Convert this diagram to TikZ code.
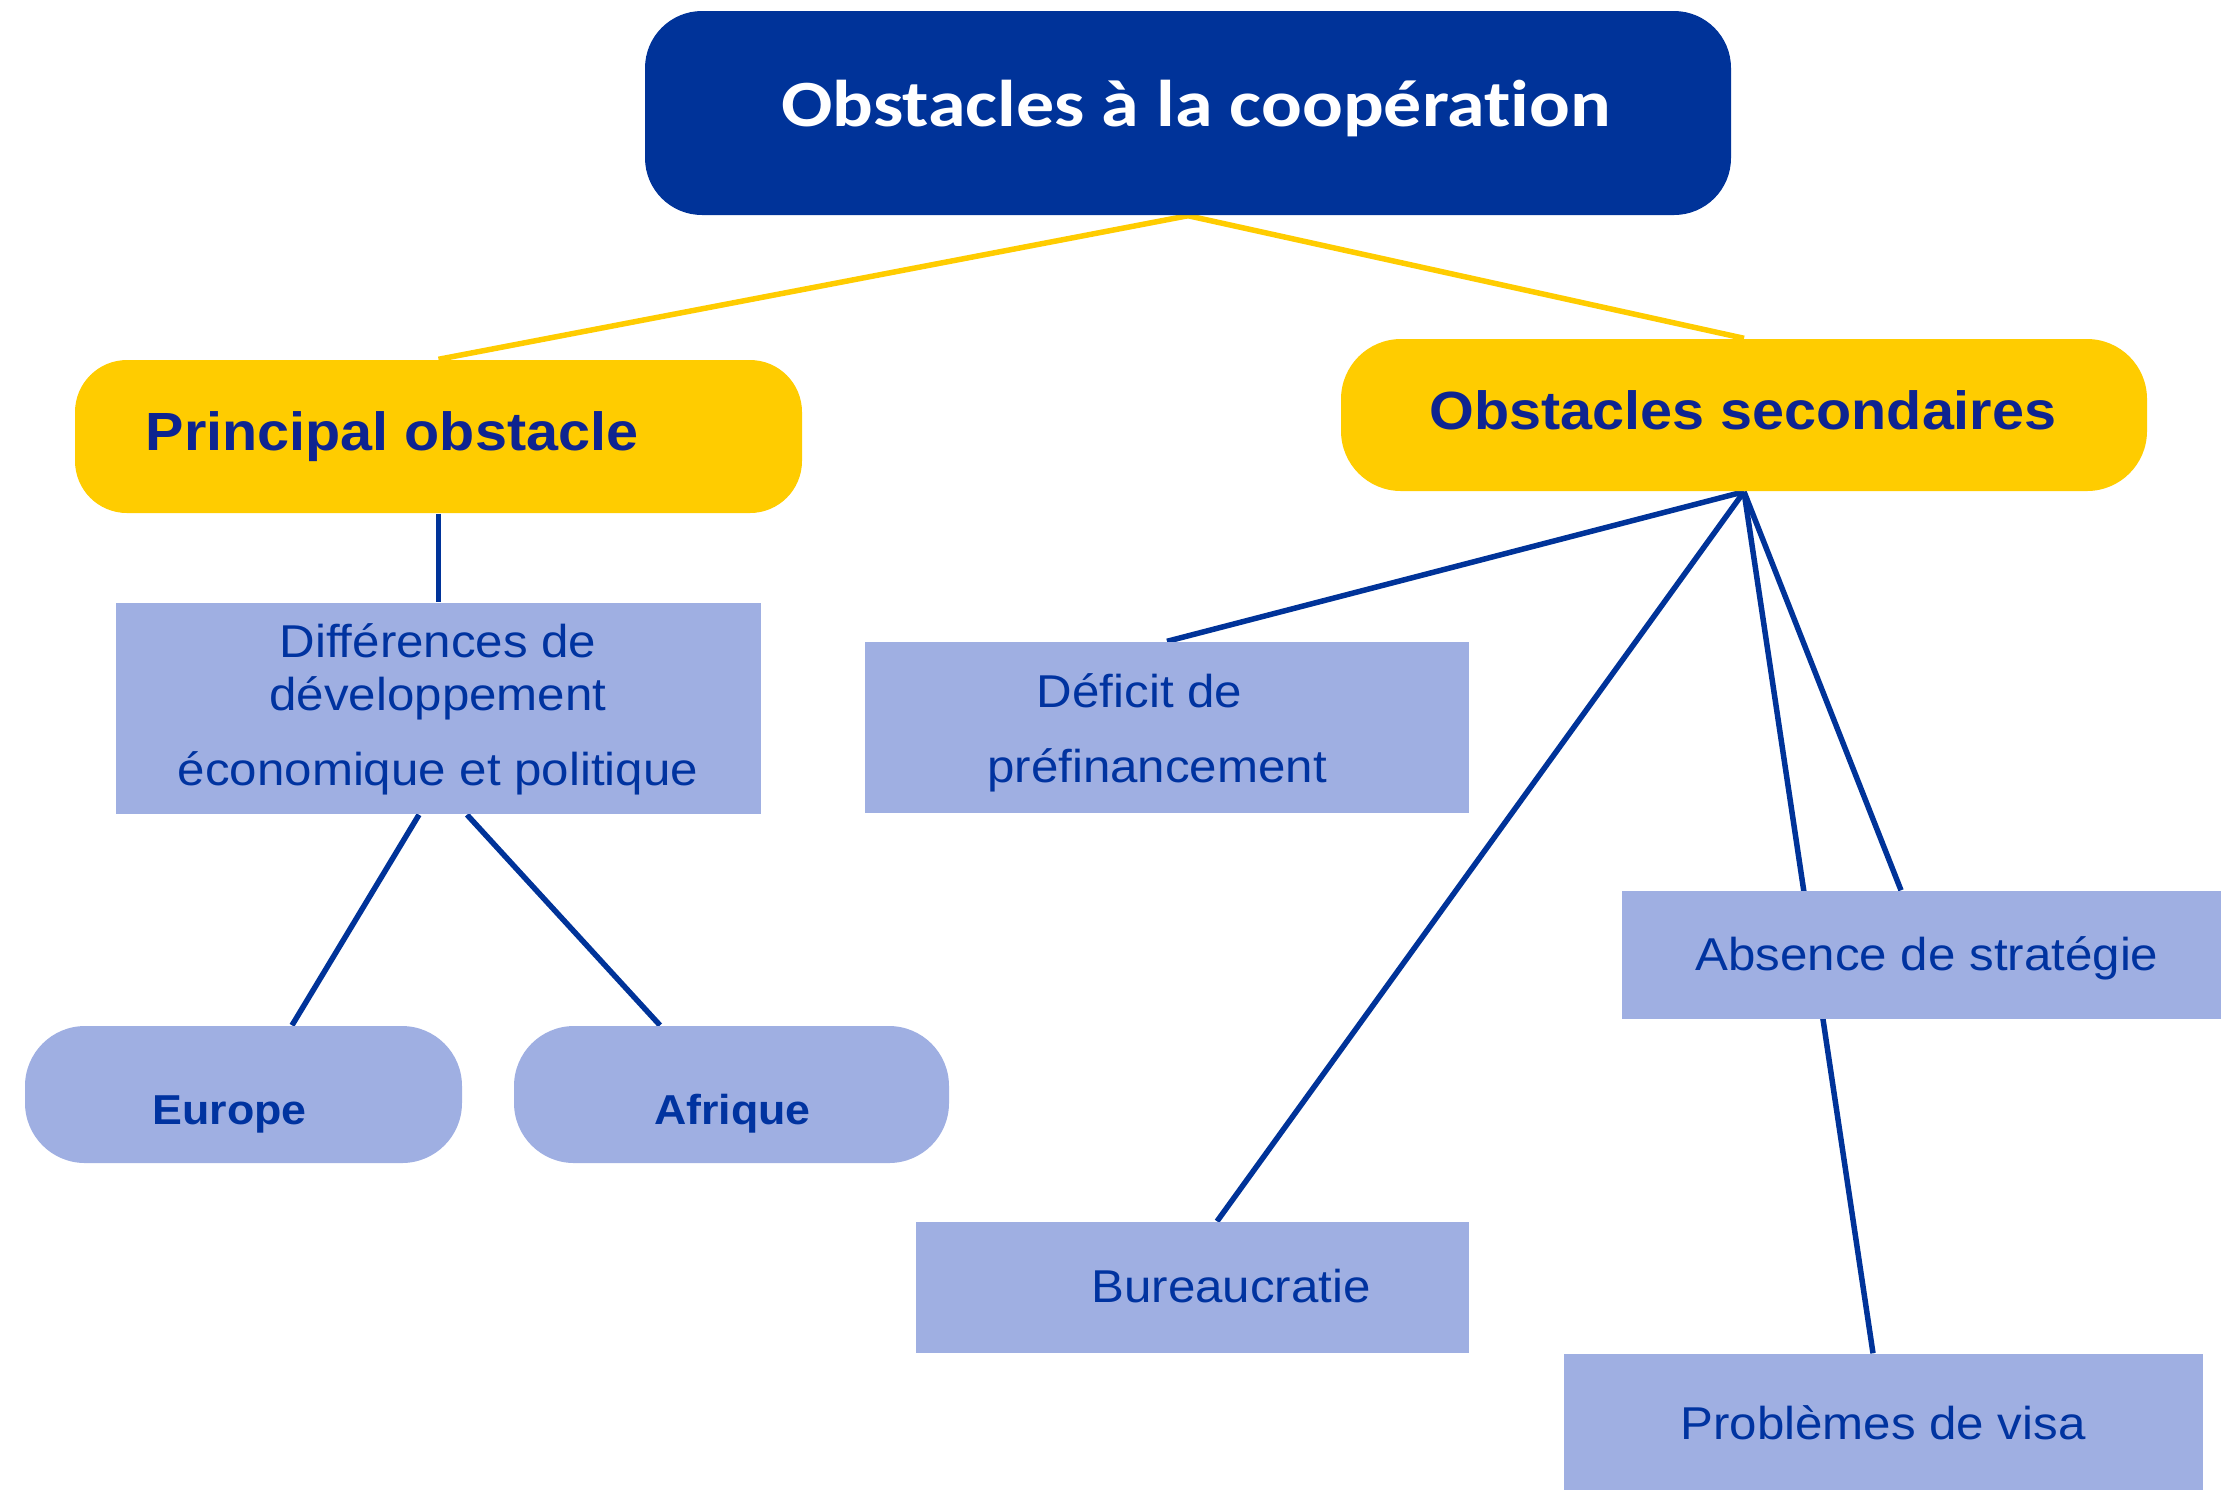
\documentclass[tikz,border=0pt]{standalone}
\usepackage{fontspec}
\setmainfont[FakeStretch=1.07]{Liberation Sans}
\newfontfamily\titlefont[FakeStretch=1.15, Ligatures=NoCommon]{Carlito}
\usetikzlibrary{backgrounds}
\definecolor{navy}{RGB}{0,51,153}
\definecolor{gold}{RGB}{255,204,0}
\definecolor{lightb}{RGB}{159,175,226}
\definecolor{txtblue}{RGB}{0,51,160}
\definecolor{boldblue}{RGB}{14,36,144}
\tikzset{
  sqbox/.style={fill=lightb, draw=none, inner sep=0pt},
  pillbox/.style={fill=lightb, draw=none, inner sep=0pt, rounded corners=6mm},
  ybox/.style={fill=gold, draw=none, inner sep=0pt, rounded corners=6mm},
  topbox/.style={fill=navy, draw=none, inner sep=0pt, rounded corners=5.7mm},
  txt/.style={anchor=base, inner sep=0pt, text=txtblue, font=\fontsize{13.1pt}{15pt}\selectfont},
  btxt/.style={anchor=base, inner sep=0pt, text=txtblue, font=\bfseries\fontsize{11.9pt}{14pt}\selectfont},
  ytxt/.style={anchor=base, inner sep=0pt, text=boldblue, font=\bfseries\fontsize{15.3pt}{18pt}\selectfont},
  ttxt/.style={anchor=base, inner sep=0pt, text=white, font=\titlefont\bfseries\fontsize{18.8pt}{22pt}\selectfont},
  link/.style={draw=navy, line width=0.55mm},
  ylink/.style={draw=gold, line width=0.55mm}
}
\begin{document}
\begin{tikzpicture}[x=0.1mm, y=-0.1mm]
\useasboundingbox (0,0) rectangle (2221,1490);
% boxes
\node[topbox, minimum width=108.6mm, minimum height=20.4mm] (top) at (1188,113) {};
\node[ybox, rounded corners=5.2mm, minimum width=72.7mm, minimum height=15.3mm] (principal) at (438.5,436.5) {};
\node[ybox, minimum width=80.6mm, minimum height=15.2mm] (secondaires) at (1744,415) {};
\node[sqbox, minimum width=64.5mm, minimum height=21.1mm] (diff) at (438.5,708.5) {};
\node[pillbox, minimum width=43.7mm, minimum height=13.7mm] (europe) at (243.5,1094.5) {};
\node[pillbox, minimum width=43.5mm, minimum height=13.7mm] (afrique) at (731.5,1094.5) {};
\node[sqbox, minimum width=60.4mm, minimum height=17.1mm] (deficit) at (1167,727.5) {};
\node[sqbox, minimum width=59.9mm, minimum height=12.8mm] (absence) at (1921.5,955) {};
\node[sqbox, minimum width=55.3mm, minimum height=13.1mm] (bureau) at (1192.5,1287.5) {};
\node[sqbox, minimum width=63.9mm, minimum height=13.6mm] (visa) at (1883.5,1422) {};
% texts
\node[ttxt] (top-t) at (1196,126) {Obstacles à la coopération};
\node[ytxt] (principal-t) at (392,450) {Principal obstacle};
\node[ytxt] (secondaires-t) at (1743,429) {Obstacles secondaires};
\node[txt] (diff-t1) at (438,657) {Différences de};
\node[txt] (diff-t2) at (438,710) {développement};
\node[txt] (diff-t3) at (438,785) {économique et politique};
\node[btxt] (europe-t) at (229.5,1124) {Europe};
\node[btxt] (afrique-t) at (732.5,1124) {Afrique};
\node[txt] (deficit-t1) at (1139.5,707) {Déficit de};
\node[txt] (deficit-t2) at (1157,782) {préfinancement};
\node[txt] (absence-t) at (1927,970) {Absence de stratégie};
\node[txt] (bureau-t) at (1231,1302) {Bureaucratie};
\node[txt] (visa-t) at (1883,1439) {Problèmes de visa};
% connectors
\begin{pgfonlayer}{background}
\draw[ylink] (top.south) -- (principal.north);
\draw[ylink] (top.south) -- (secondaires.north);
\draw[link] (principal.south) -- (diff.north);
\draw[link] ([xshift=-1.95mm]diff.south) -- ([xshift=4.85mm]europe.north);
\draw[link] ([xshift=2.85mm]diff.south) -- ([xshift=-7.15mm]afrique.north);
\draw[link] (secondaires.south) -- (deficit.north);
\draw[link] (secondaires.south) -- ([xshift=2.45mm]bureau.north);
\draw[link] (secondaires.south) -- ([xshift=-2.05mm]absence.north);
\draw[link] (secondaires.south) -- ([xshift=-1.05mm]visa.north);
\end{pgfonlayer}
\end{tikzpicture}
\end{document}
